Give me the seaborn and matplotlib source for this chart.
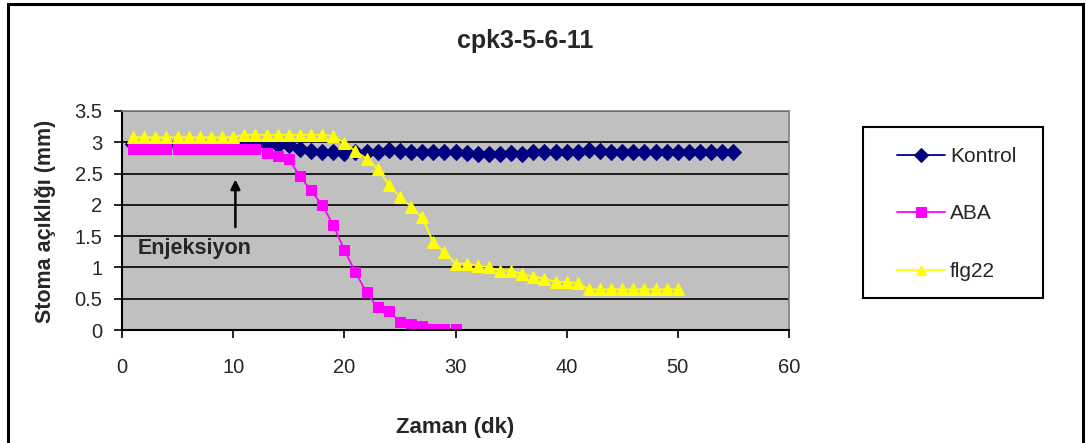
import numpy as np
import pandas as pd
import matplotlib
matplotlib.use("Agg")
import matplotlib.pyplot as plt
import seaborn as sns
from matplotlib.patches import Rectangle

# ---- data ----
kontrol_x = list(range(1, 56))
kontrol_y = [2.97, 2.97, 2.97, 2.97, 2.97, 2.97, 2.97, 2.97, 2.97, 2.97, 2.97,
             2.98, 2.96, 2.96, 2.95, 2.90, 2.86, 2.85, 2.84, 2.83, 2.85, 2.85,
             2.85, 2.88, 2.86, 2.85, 2.85, 2.85, 2.85, 2.85, 2.83, 2.82, 2.82,
             2.82, 2.83, 2.82, 2.84, 2.85, 2.85, 2.85, 2.85, 2.88, 2.86, 2.85,
             2.85, 2.85, 2.85, 2.85, 2.85, 2.85, 2.85, 2.85, 2.85, 2.85, 2.85]

aba_x = list(range(1, 31))
aba_y = [2.9, 2.9, 2.9, 2.9, 2.9, 2.9, 2.9, 2.9, 2.9, 2.9, 2.9, 2.9,
         2.83, 2.78, 2.73, 2.46, 2.23, 2.0, 1.68, 1.28, 0.92, 0.60, 0.36,
         0.30, 0.13, 0.10, 0.06, 0.02, 0.02, 0.02]

flg_x = list(range(1, 51))
flg_y = [3.08, 3.08, 3.08, 3.08, 3.08, 3.08, 3.08, 3.08, 3.08, 3.08, 3.12,
         3.12, 3.12, 3.12, 3.12, 3.12, 3.12, 3.12, 3.1, 2.99, 2.86, 2.74,
         2.58, 2.32, 2.13, 1.97, 1.80, 1.40, 1.25, 1.06, 1.06, 1.03, 1.0,
         0.95, 0.95, 0.90, 0.85, 0.82, 0.77, 0.77, 0.75, 0.65, 0.65, 0.65,
         0.65, 0.65, 0.65, 0.65, 0.65, 0.65]

series_names = ["Kontrol", "ABA", "flg22"]
x_ticks = [0, 10, 20, 30, 40, 50, 60]
y_ticks = [0, 0.5, 1, 1.5, 2, 2.5, 3, 3.5]
y_tick_labels = ["0", "0.5", "1", "1.5", "2", "2.5", "3", "3.5"]
title = "cpk3-5-6-11"
xlabel = "Zaman (dk)"
ylabel = "Stoma açıklığı (mm)"
annot_text = "Enjeksiyon"

# ---- style ----
sns.set_style("white")
plt.rcParams['font.family'] = ['Liberation Sans', 'DejaVu Sans']

W, H = 1086, 443
fig = plt.figure(figsize=(W / 100, H / 100), dpi=100)
fig.patch.set_facecolor("white")

# outer frame
fig.add_artist(Rectangle((7.5 / W, -0.05), (1083 - 7.5) / W, 1.05 - 4.5 / H,
                         transform=fig.transFigure, fill=False,
                         edgecolor="black", linewidth=2.2))

ax = fig.add_axes([122 / W, (H - 330) / H, 667 / W, 219 / H])
ax.set_facecolor("#C0C0C0")

styles = [
    (kontrol_x, kontrol_y, "#000080", "D", 8),
    (aba_x, aba_y, "#FF00FF", "s", 7),
    (flg_x, flg_y, "#FFFF00", "^", 8.5),
]
for name, (xs, ys, col, mk, ms) in zip(series_names, styles):
    df = pd.DataFrame({"x": xs, "y": ys})
    sns.lineplot(data=df, x="x", y="y", ax=ax, color=col, marker=mk,
                 markersize=ms, markeredgecolor=col, linewidth=1.3,
                 label=name, legend=False)

ax.set_xlim(0, 60)
ax.set_ylim(0, 3.5)
ax.set_xticks(x_ticks)
ax.set_xticklabels([str(t) for t in x_ticks])
ax.set_yticks(y_ticks)
ax.set_yticklabels(y_tick_labels)
ax.yaxis.grid(True, color="black", linewidth=1.2)
ax.set_axisbelow(True)
ax.tick_params(axis="both", labelsize=14.5, length=6, width=1.2, color="black",
               direction="out", bottom=True, left=True)
ax.tick_params(axis="x", pad=14)
ax.tick_params(axis="y", pad=8)
for side in ["left", "bottom"]:
    ax.spines[side].set_color("black")
    ax.spines[side].set_linewidth(1.5)
for side in ["top", "right"]:
    ax.spines[side].set_color("#808080")
    ax.spines[side].set_linewidth(1.2)
ax.set_xlabel("")
ax.set_ylabel("")

# annotation
ax.annotate("", xy=(10.2, 2.45), xytext=(10.2, 1.6),
            arrowprops=dict(arrowstyle="-|>", color="black", lw=1.8,
                            mutation_scale=14))
ax.text(1.45, 1.31, annot_text, fontsize=15.5, fontweight="bold",
        ha="left", va="center")

# titles
fig.text(525 / W, 1 - 41 / H, title, fontsize=18, fontweight="bold",
         ha="center", va="center")
fig.text(455 / W, 1 - 428 / H, xlabel, fontsize=16, fontweight="bold",
         ha="center", va="center")
fig.text(46 / W, 1 - 221 / H, ylabel, fontsize=15.5, fontweight="bold",
         ha="center", va="center", rotation=90)

# legend box
fig.add_artist(Rectangle((863 / W, 1 - 298 / H), (1043 - 863) / W, (298 - 127) / H,
                         transform=fig.transFigure, fill=False,
                         edgecolor="black", linewidth=1.5))
handles, labels = ax.get_legend_handles_labels()
leg = fig.legend(handles, labels, loc="center left",
                 bbox_to_anchor=(897 / W, 1 - 214 / H),
                 frameon=False, fontsize=15, labelspacing=1.85,
                 handlelength=2.3, borderpad=0, borderaxespad=0,
                 handletextpad=0.25)
for h in leg.legend_handles:
    h.set_markersize(7.5)

fig.savefig("out.png", dpi=100)
